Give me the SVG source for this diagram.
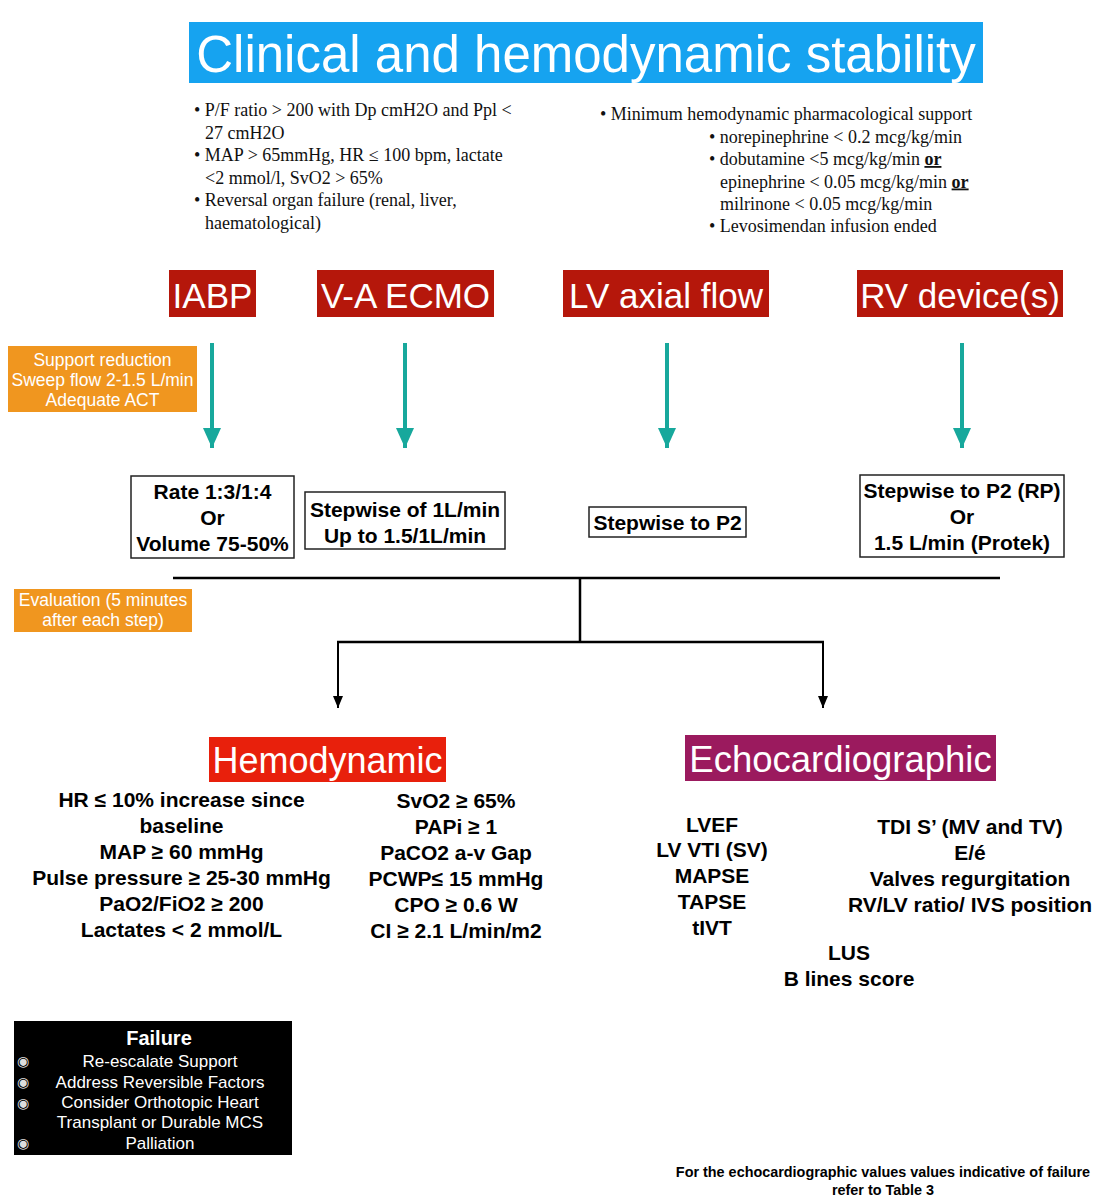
<svg xmlns="http://www.w3.org/2000/svg" width="1100" height="1200" viewBox="0 0 1100 1200">
<style>
.sans{font-family:"Liberation Sans",Arial,sans-serif}
.serif{font-family:"Liberation Serif","Times New Roman",serif;font-size:18px;fill:#111}
.dev{font-family:"Liberation Sans",Arial,sans-serif;font-size:35px;fill:#fff;text-anchor:middle}
.devbox{fill:#b5170b}
.box{fill:#fff;stroke:#222;stroke-width:1.5}
.bt{font-family:"Liberation Sans",Arial,sans-serif;font-size:21px;font-weight:bold;fill:#000;text-anchor:middle}
.or{font-family:"Liberation Sans",Arial,sans-serif;font-size:17.5px;fill:#fff;text-anchor:middle}
.orbox{fill:#f0961f}
.fl{font-family:"Liberation Sans",Arial,sans-serif;font-size:17px;fill:#fff;text-anchor:middle}
.bul{font-family:"DejaVu Sans",sans-serif;font-size:14px;fill:#ddd;text-anchor:middle}
.teal{stroke:#17a89c;stroke-width:4;fill:none}
.blk{stroke:#000;stroke-width:2.5;fill:none}
</style>
<defs>
<marker id="ta" viewBox="0 0 20 18" refX="20" refY="9" markerWidth="20" markerHeight="18" markerUnits="userSpaceOnUse" orient="auto">
<path d="M0,0 L20,9 L0,18 Z" fill="#17a89c"/>
</marker>
<marker id="ba" viewBox="0 0 12 10" refX="12" refY="5" markerWidth="12" markerHeight="10" markerUnits="userSpaceOnUse" orient="auto">
<path d="M0,0 L12,5 L0,10 Z" fill="#000"/>
</marker>
</defs>
<rect width="1100" height="1200" fill="#fff"/>

<g id="title">
<rect x="189" y="22" width="794" height="61" fill="#16a3f0"/>
<text x="586" y="72" class="sans" font-size="51" fill="#fff" text-anchor="middle">Clinical and hemodynamic stability</text>
</g>

<g id="criteria-left" class="serif">
<text x="194" y="116">• P/F ratio &gt; 200 with Dp cmH2O and Ppl &lt;</text>
<text x="205" y="138.5">27 cmH2O</text>
<text x="194" y="161">• MAP &gt; 65mmHg, HR ≤ 100 bpm, lactate</text>
<text x="205" y="183.5">&lt;2 mmol/l, SvO2 &gt; 65%</text>
<text x="194" y="206">• Reversal organ failure (renal, liver,</text>
<text x="205" y="228.5">haematological)</text>
</g>

<g id="criteria-right" class="serif">
<text x="600" y="120">• Minimum hemodynamic pharmacological support</text>
<text x="709" y="142.5">• norepinephrine &lt; 0.2 mcg/kg/min</text>
<text x="709" y="165">• dobutamine &lt;5 mcg/kg/min <tspan font-weight="bold" text-decoration="underline">or</tspan></text>
<text x="720" y="187.5">epinephrine &lt; 0.05 mcg/kg/min <tspan font-weight="bold" text-decoration="underline">or</tspan></text>
<text x="720" y="210">milrinone &lt; 0.05 mcg/kg/min</text>
<text x="709" y="232">• Levosimendan infusion ended</text>
</g>

<g id="iabp">
<rect x="169" y="270" width="87" height="47" class="devbox"/>
<text x="212.5" y="308" class="dev">IABP</text>
</g>
<g id="va-ecmo">
<rect x="317" y="270" width="177" height="47" class="devbox"/>
<text x="405.5" y="308" class="dev">V-A ECMO</text>
</g>
<g id="lv-axial">
<rect x="563" y="270" width="206" height="47" class="devbox"/>
<text x="666" y="308" class="dev">LV axial flow</text>
</g>
<g id="rv-device">
<rect x="857" y="270" width="206" height="47" class="devbox"/>
<text x="960" y="308" class="dev">RV device(s)</text>
</g>

<g id="support-reduction">
<rect x="8" y="346" width="189" height="66" class="orbox"/>
<text x="102.5" y="366" class="or">Support reduction</text>
<text x="102.5" y="386" class="or">Sweep flow 2-1.5 L/min</text>
<text x="102.5" y="406" class="or">Adequate ACT</text>
</g>

<g id="iabp-step">
<rect x="131" y="476" width="163" height="82" class="box"/>
<text x="212.5" y="499" class="bt">Rate 1:3/1:4</text>
<text x="212.5" y="525" class="bt">Or</text>
<text x="212.5" y="551" class="bt">Volume 75-50%</text>
</g>
<g id="ecmo-step">
<rect x="305" y="492" width="200" height="57" class="box"/>
<text x="405" y="516.5" class="bt">Stepwise of 1L/min</text>
<text x="405" y="542.5" class="bt">Up to 1.5/1L/min</text>
</g>
<g id="lv-step">
<rect x="589" y="507" width="157" height="30" class="box"/>
<text x="667.5" y="529.5" class="bt">Stepwise to P2</text>
</g>
<g id="rv-step">
<rect x="860" y="475" width="204" height="82" class="box"/>
<text x="962" y="497.5" class="bt">Stepwise to P2 (RP)</text>
<text x="962" y="523.5" class="bt">Or</text>
<text x="962" y="549.5" class="bt">1.5 L/min (Protek)</text>
</g>

<g id="evaluation">
<rect x="14" y="589" width="178" height="43" class="orbox"/>
<text x="103" y="606" class="or" font-size="17">Evaluation (5 minutes</text>
<text x="103" y="626" class="or" font-size="17">after each step)</text>
</g>

<g id="connectors">
<line x1="212" y1="343" x2="212" y2="448" class="teal" marker-end="url(#ta)"/>
<line x1="405" y1="343" x2="405" y2="448" class="teal" marker-end="url(#ta)"/>
<line x1="667" y1="343" x2="667" y2="448" class="teal" marker-end="url(#ta)"/>
<line x1="962" y1="343" x2="962" y2="448" class="teal" marker-end="url(#ta)"/>
<line x1="173" y1="578" x2="1000" y2="578" class="blk"/>
<line x1="580" y1="578" x2="580" y2="641" class="blk"/>
<line x1="337" y1="642" x2="824" y2="642" class="blk"/>
<line x1="338" y1="641" x2="338" y2="708" stroke="#000" stroke-width="2" marker-end="url(#ba)"/>
<line x1="823" y1="641" x2="823" y2="708" stroke="#000" stroke-width="2" marker-end="url(#ba)"/>
</g>

<g id="hemodynamic">
<rect x="209" y="737" width="237" height="45" fill="#e8200c"/>
<text x="327.5" y="773" class="sans" font-size="36" fill="#fff" text-anchor="middle">Hemodynamic</text>
<text x="181.5" y="807" class="bt">HR ≤ 10% increase since</text>
<text x="181.5" y="833" class="bt">baseline</text>
<text x="181.5" y="859" class="bt">MAP ≥ 60 mmHg</text>
<text x="181.5" y="885" class="bt">Pulse pressure ≥ 25-30 mmHg</text>
<text x="181.5" y="911" class="bt">PaO2/FiO2 ≥ 200</text>
<text x="181.5" y="937" class="bt">Lactates &lt; 2 mmol/L</text>
<text x="456" y="808" class="bt">SvO2 ≥ 65%</text>
<text x="456" y="834" class="bt">PAPi ≥ 1</text>
<text x="456" y="860" class="bt">PaCO2 a-v Gap</text>
<text x="456" y="886" class="bt">PCWP≤ 15 mmHg</text>
<text x="456" y="912" class="bt">CPO ≥ 0.6 W</text>
<text x="456" y="938" class="bt">CI ≥ 2.1 L/min/m2</text>
</g>

<g id="echocardiographic">
<rect x="685" y="735" width="311" height="46" fill="#9b1a5e"/>
<text x="840.5" y="772" class="sans" font-size="36.5" fill="#fff" text-anchor="middle">Echocardiographic</text>
<text x="712" y="831.5" class="bt">LVEF</text>
<text x="712" y="857" class="bt">LV VTI (SV)</text>
<text x="712" y="883" class="bt">MAPSE</text>
<text x="712" y="909" class="bt">TAPSE</text>
<text x="712" y="935" class="bt">tIVT</text>
<text x="970" y="833.5" class="bt">TDI S’ (MV and TV)</text>
<text x="970" y="859.5" class="bt">E/é</text>
<text x="970" y="885.5" class="bt">Valves regurgitation</text>
<text x="970" y="911.5" class="bt">RV/LV ratio/ IVS position</text>
<text x="849" y="959.5" class="bt">LUS</text>
<text x="849" y="985.5" class="bt">B lines score</text>
</g>

<g id="failure">
<rect x="14" y="1021" width="278" height="134" fill="#000"/>
<text x="159" y="1045" class="sans" font-size="20" font-weight="bold" fill="#fff" text-anchor="middle">Failure</text>
<text x="160" y="1066.5" class="fl">Re-escalate Support</text>
<text x="160" y="1087.5" class="fl">Address Reversible Factors</text>
<text x="160" y="1108" class="fl">Consider Orthotopic Heart</text>
<text x="160" y="1128" class="fl">Transplant or Durable MCS</text>
<text x="160" y="1148.5" class="fl">Palliation</text>
<text x="23" y="1066" class="bul">◉</text>
<text x="23" y="1087" class="bul">◉</text>
<text x="23" y="1108" class="bul">◉</text>
<text x="23" y="1148" class="bul">◉</text>
</g>

<g id="footnote">
<text x="883" y="1176.5" class="sans" font-size="14.4" font-weight="bold" fill="#000" text-anchor="middle">For the echocardiographic values values indicative of failure</text>
<text x="883" y="1195" class="sans" font-size="14.4" font-weight="bold" fill="#000" text-anchor="middle">refer to Table 3</text>
</g>
</svg>
